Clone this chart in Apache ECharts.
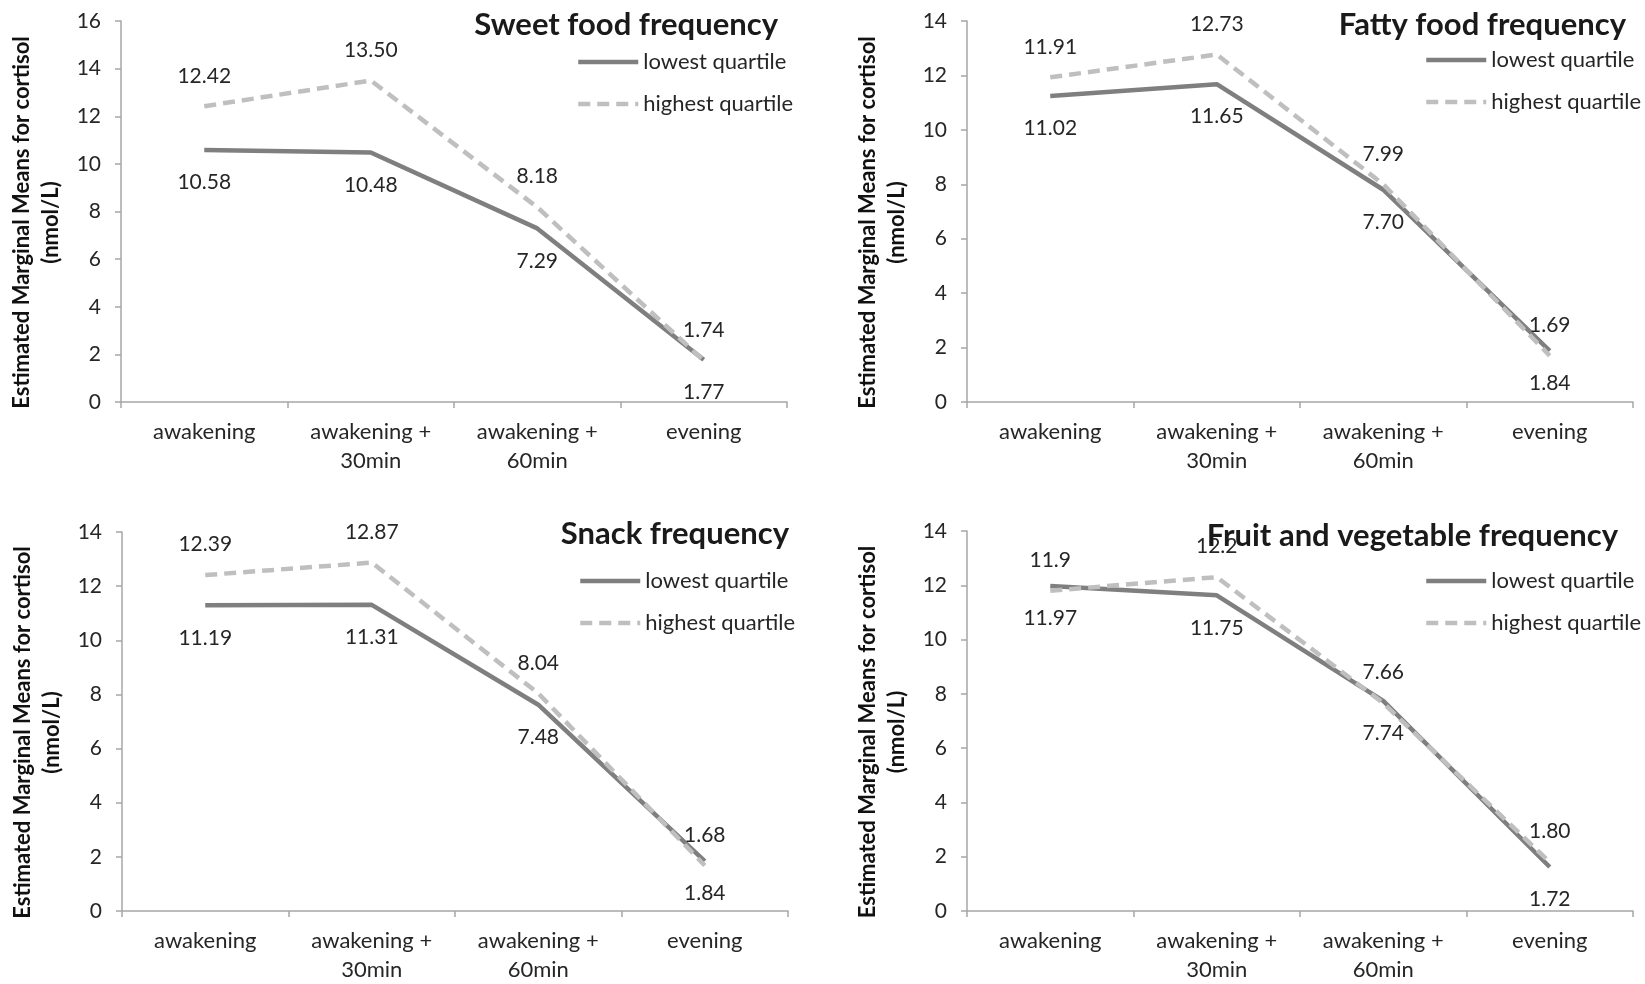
<!DOCTYPE html>
<html>
<head>
<meta charset="utf-8">
<script src="https://cdn.jsdelivr.net/npm/echarts@6/dist/echarts.min.js"></script>
<style>
html,body{margin:0;padding:0;background:#fff;}
#chart{width:1645px;height:984px;}
</style>
</head>
<body>
<div id="chart"></div>
<script>
// ---------- data ----------
const categories = ['awakening', 'awakening +\n30min', 'awakening +\n60min', 'evening'];
const seriesNames = ['lowest quartile', 'highest quartile'];
const yAxisName = 'Estimated Marginal Means for cortisol\n(nmol/L)';

const sweetTitle = 'Sweet food frequency';
const sweetLowest = [10.58, 10.48, 7.29, 1.77];
const sweetHighest = [12.42, 13.50, 8.18, 1.74];
const sweetLowestLabels = ['10.58', '10.48', '7.29', '1.77'];
const sweetHighestLabels = ['12.42', '13.50', '8.18', '1.74'];
const sweetYMax = 16;

const fattyTitle = 'Fatty food frequency';
const fattyLowest = [11.24, 11.68, 7.80, 1.88];
const fattyHighest = [11.93, 12.77, 8.00, 1.70];
const fattyLowestLabels = ['11.02', '11.65', '7.70', '1.84'];
const fattyHighestLabels = ['11.91', '12.73', '7.99', '1.69'];
const fattyYMax = 14;

const snackTitle = 'Snack frequency';
const snackLowest = [11.29, 11.31, 7.62, 1.84];
const snackHighest = [12.41, 12.87, 8.04, 1.68];
const snackLowestLabels = ['11.19', '11.31', '7.48', '1.84'];
const snackHighestLabels = ['12.39', '12.87', '8.04', '1.68'];
const snackYMax = 14;

const fruitTitle = 'Fruit and vegetable frequency';
const fruitLowest = [11.97, 11.63, 7.74, 1.62];
const fruitHighest = [11.80, 12.30, 7.66, 1.80];
const fruitLowestLabels = ['11.97', '11.75', '7.74', '1.72'];
const fruitHighestLabels = ['11.9', '12.2', '7.66', '1.80'];
const fruitYMax = 14;

const yInterval = 2;

// ---------- layout / style ----------
const FONT = 'Lato, "Open Sans", sans-serif';
const TXT = '#262626';
const AXIS = '#a6a6a6';
const LOW_COLOR = '#7f7f7f';
const HIGH_COLOR = '#bfbfbf';
const INVISIBLE = 'rgba(0,0,0,0)';

const panels = [
  {title: sweetTitle, low: sweetLowest, high: sweetHighest, lowL: sweetLowestLabels, highL: sweetHighestLabels, yMax: sweetYMax,
   grid: {left: 121, top: 21, width: 666, height: 381}, titlePos: {right: 862, top: 4}, legendPos: {left: 571, top: 46}},
  {title: fattyTitle, low: fattyLowest, high: fattyHighest, lowL: fattyLowestLabels, highL: fattyHighestLabels, yMax: fattyYMax,
   grid: {left: 967, top: 21, width: 666, height: 381}, titlePos: {right: 14, top: 4}, legendPos: {left: 1419, top: 44}},
  {title: snackTitle, low: snackLowest, high: snackHighest, lowL: snackLowestLabels, highL: snackHighestLabels, yMax: snackYMax,
   grid: {left: 122, top: 532, width: 666, height: 380}, titlePos: {right: 851, top: 513}, legendPos: {left: 573, top: 565}},
  {title: fruitTitle, low: fruitLowest, high: fruitHighest, lowL: fruitLowestLabels, highL: fruitHighestLabels, yMax: fruitYMax,
   grid: {left: 967, top: 531, width: 666, height: 381}, titlePos: {right: 22, top: 515}, legendPos: {left: 1419, top: 565}}
];

const option = {
  backgroundColor: '#ffffff',
  animation: false,
  textStyle: {fontFamily: FONT},
  grid: [], xAxis: [], yAxis: [], series: [], title: [], legend: []
};

panels.forEach((p, i) => {
  option.grid.push(Object.assign({containLabel: false}, p.grid));
  option.title.push(Object.assign({
    text: p.title,
    textStyle: {fontFamily: FONT, fontSize: 31, fontWeight: 'bold', color: '#1a1a1a'}
  }, p.titlePos));
  option.legend.push(Object.assign({
    orient: 'vertical',
    data: seriesNames,
    itemWidth: 60, itemHeight: 20, itemGap: 20,
    lineStyle: {width: 4.5},
    textStyle: {fontFamily: FONT, fontSize: 22, color: TXT, lineHeight: 22},
    selectedMode: false
  }, p.legendPos));
  option.xAxis.push({
    type: 'category', gridIndex: i, data: categories, boundaryGap: true,
    axisLine: {lineStyle: {color: AXIS, width: 1.5}},
    axisTick: {show: true, length: 6, lineStyle: {color: AXIS, width: 1.5}},
    axisLabel: {fontFamily: FONT, fontSize: 22, color: TXT, margin: 15, lineHeight: 29, interval: 0},
    splitLine: {show: false}
  });
  option.yAxis.push({
    type: 'value', gridIndex: i, min: 0, max: p.yMax, interval: yInterval,
    name: yAxisName, nameLocation: 'middle', nameGap: 56, nameRotate: 90,
    nameTextStyle: {fontFamily: FONT, fontSize: 22, fontWeight: 'bold', color: '#111111', lineHeight: 29, align: 'center',
                    padding: [0, 22, 0, 0]},
    axisLine: {show: true, lineStyle: {color: AXIS, width: 1.5}},
    axisTick: {show: true, length: 6, lineStyle: {color: AXIS, width: 1.5}},
    axisLabel: {fontFamily: FONT, fontSize: 21, color: TXT, margin: 20},
    splitLine: {show: false}
  });
  option.series.push({
    name: seriesNames[0], type: 'line', xAxisIndex: i, yAxisIndex: i,
    data: p.low, symbol: 'circle', symbolSize: 1, showSymbol: true, smooth: false,
    lineStyle: {color: LOW_COLOR, width: 4.5, type: 'solid'},
    itemStyle: {color: INVISIBLE, borderWidth: 0},
    label: {show: true, position: 'bottom', distance: 20, fontFamily: FONT, fontSize: 21, color: TXT, lineHeight: 24,
            formatter: (q) => p.lowL[q.dataIndex]},
    emphasis: {disabled: true},
    z: 2
  });
  option.series.push({
    name: seriesNames[1], type: 'line', xAxisIndex: i, yAxisIndex: i,
    data: p.high, symbol: 'circle', symbolSize: 1, showSymbol: true, smooth: false,
    lineStyle: {color: HIGH_COLOR, width: 4.5, type: [12, 7]},
    itemStyle: {color: INVISIBLE, borderWidth: 0},
    label: {show: true, position: 'top', distance: 18, fontFamily: FONT, fontSize: 21, color: TXT, lineHeight: 24,
            formatter: (q) => p.highL[q.dataIndex]},
    emphasis: {disabled: true},
    z: 3
  });
});

const chart = echarts.init(document.getElementById('chart'), null, {renderer: 'canvas'});
chart.setOption(option);
</script>
</body>
</html>
